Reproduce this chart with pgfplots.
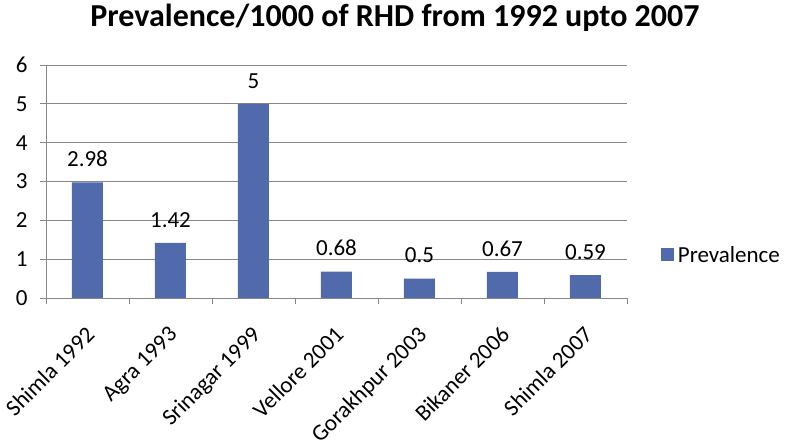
\documentclass[border=0pt]{standalone}
\usepackage{pgfplots}
\pgfplotsset{compat=1.18}
\usepackage{fontspec}
\setmainfont{Carlito}
\definecolor{barblue}{RGB}{80,106,172}
\definecolor{gridgray}{RGB}{134,134,134}
\begin{document}
\begin{tikzpicture}
\useasboundingbox (0,0) rectangle (787pt,444pt);
\node[font=\fontsize{32}{38}\selectfont\bfseries, anchor=base, inner sep=0pt] at (395pt,417pt) {Prevalence/1000 of RHD from 1992 upto 2007};
\begin{axis}[
  at={(46pt,146pt)}, anchor=south west,
  scale only axis, width=581pt, height=233pt,
  xmin=-0.5, xmax=6.5, ymin=0, ymax=6,
  axis x line*=bottom, axis y line*=left,
  axis line style={draw=gridgray, line width=0.8pt, -},
  xtick={0,...,6},
  xticklabels={Shimla 1992, Agra 1993, Srinagar 1999, Vellore 2001, Gorakhpur 2003, Bikaner 2006, Shimla 2007},
  major x tick style={draw=none},
  minor xtick={-0.5,0.5,...,6.5},
  minor x tick style={draw=gridgray, line width=0.8pt},
  minor tick length=6pt,
  ytick={0,...,6},
  major tick length=6pt,
  y tick style={draw=gridgray, line width=0.8pt},
  tick align=outside,
  ymajorgrids,
  grid style={draw=gridgray, line width=0.8pt},
  /pgf/number format/assume math mode=true,
  ticklabel style={font=\fontsize{23}{27}\selectfont},
  xticklabel style={yshift=-18pt, xshift=-3pt, rotate=45, anchor=north east, inner sep=2pt},
  yticklabel style={xshift=-9pt},
  nodes near coords,
  point meta=explicit symbolic,
  every node near coord/.append style={font=\fontsize{23}{27}\selectfont, yshift=12pt, black},
  legend style={at={(1.058,0.185)}, anchor=west, draw=none, fill=none, inner sep=0pt, font=\fontsize{23}{27}\selectfont, nodes={inner xsep=4pt}},
  legend image code/.code={\fill[barblue] (0pt,-6.5pt) rectangle (13pt,6.5pt);},
]
\addplot[ybar, bar width=31pt, fill=barblue, draw=none] coordinates {
(0,2.98) [2.98]
(1,1.42) [1.42]
(2,5) [5]
(3,0.68) [0.68]
(4,0.5) [0.5]
(5,0.67) [0.67]
(6,0.59) [0.59]
};
\addlegendentry{Prevalence}
\end{axis}
\end{tikzpicture}
\end{document}
